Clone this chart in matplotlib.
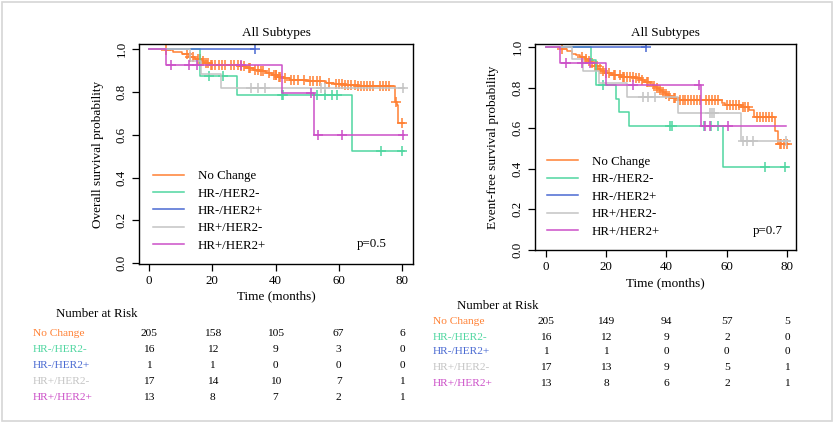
import numpy as np
import matplotlib
matplotlib.use("Agg")
import matplotlib.pyplot as plt
import matplotlib.transforms as mtransforms
from matplotlib.patches import Rectangle

plt.rcParams['font.family'] = ['Liberation Serif', 'DejaVu Serif']

groups = ["No Change", "HR-/HER2-", "HR-/HER2+", "HR+/HER2-", "HR+/HER2+"]
colors = ["#FF8033", "#4FD6A0", "#4A6AD2", "#C4C4C4", "#CC50C8"]
risk_times = [0, 20, 40, 60, 80]

# ---- Overall survival (left) : event times, survival after event, censor times, last follow-up
os_nc_t = [5, 7.5, 10.5, 12.5, 14.5, 16.5, 17.5, 19, 28.5, 31, 33, 35, 37, 39, 40.5, 42,
           44.5, 50, 56, 58.5, 62, 66, 77.7, 78.3, 78.8]
os_nc_s = [0.995, 0.985, 0.975, 0.963, 0.952, 0.943, 0.935, 0.926, 0.918, 0.91, 0.902, 0.895,
           0.887, 0.878, 0.868, 0.862, 0.852, 0.848, 0.842, 0.836, 0.83, 0.825, 0.75, 0.74, 0.655]
os_nc_c = [5.5, 12, 13, 14, 15.5, 16, 17, 18, 18.5, 19.5, 20, 21, 22, 23, 24, 26, 27, 28, 29, 30,
           31.5, 32, 33.5, 34.5, 35.5, 36, 38, 39.5, 40, 40.3, 41, 41.3, 43, 45, 46, 47, 49, 51,
           52, 53, 54, 57, 59, 60, 61, 62, 63, 64, 65, 66, 67, 68, 69, 70, 71, 73, 74, 75, 76,
           78, 80]
os_nc_end = 80.8

os_nn_t = [16, 27.8, 64.2]
os_nn_s = [0.875, 0.786, 0.524]
os_nn_c = [18.8, 23.3, 42.1, 42.5, 53, 55.6, 57.9, 59.5, 73.5, 79.9]
os_nn_end = 80.5

os_np_t = []
os_np_s = []
os_np_c = [33.5]
os_np_end = 33.5

os_pn_t = [13, 16.5, 22.8]
os_pn_s = [0.941, 0.882, 0.816]
os_pn_c = [32.2, 34.4, 36.6, 54.5, 55.6, 80.4]
os_pn_end = 80.8

os_pp_t = [5.3, 42, 52.1]
os_pp_s = [0.923, 0.792, 0.596]
os_pp_c = [6.8, 12.5, 15, 29, 51.2, 53.3, 60.9, 80.4]
os_pp_end = 80.6

# ---- Event-free survival (right)
efs_nc_t = [5.3, 7, 8.6, 10, 11.5, 13, 14, 15, 16.3, 17.5, 18.5, 19.8, 22, 25, 30, 31.5, 33,
            34.5, 35.5, 36.5, 37.5, 38.5, 39.5, 40.5, 42, 44, 58.3, 59.5, 65, 67.5, 69, 76, 77]
efs_nc_s = [0.99, 0.98, 0.968, 0.96, 0.952, 0.94, 0.93, 0.92, 0.905, 0.893, 0.883, 0.872, 0.863,
            0.855, 0.848, 0.84, 0.83, 0.818, 0.808, 0.798, 0.788, 0.778, 0.768, 0.758, 0.748,
            0.74, 0.725, 0.715, 0.705, 0.69, 0.655, 0.585, 0.52]
efs_nc_c = [5.5, 12, 13.5, 14.5, 15.5, 16.5, 17, 18, 19, 20, 21, 22.5, 23, 24.5, 25.5, 26, 27,
            28, 29, 30, 31, 32, 33.5, 34, 36, 37, 38, 39, 40, 41, 42.5, 43, 44.5, 45.5, 46, 47,
            48, 49, 50, 51, 53, 54, 55, 56, 57, 60, 61, 62, 63, 64, 65.5, 66, 67, 70, 71, 72,
            73, 74, 75, 77.5, 78, 79, 80]
efs_nc_end = 80.6

efs_nn_t = [15.2, 16.6, 23.2, 24.2, 27.7, 58.7]
efs_nn_s = [0.938, 0.813, 0.745, 0.678, 0.61, 0.407]
efs_nn_c = [18.9, 41.2, 42, 52.6, 54.8, 57.2, 72.8, 79.3]
efs_nn_end = 80.1

efs_np_t = []
efs_np_s = []
efs_np_c = [33.1]
efs_np_end = 33.1

efs_pn_t = [8.6, 12.5, 17.8, 26.8, 43.7, 64.6]
efs_pn_s = [0.941, 0.882, 0.824, 0.755, 0.673, 0.539]
efs_pn_c = [32.3, 34, 36.2, 54.4, 55, 55.6, 65.3, 66.8, 68.5, 79.6]
efs_pn_end = 80.5

efs_pp_t = [4.7, 20.1, 51.6]
efs_pp_s = [0.923, 0.812, 0.609]
efs_pp_c = [6.7, 12, 14.6, 29, 50.7, 52.8, 54.5, 60.4]
efs_pp_end = 79.7

# number at risk tables
os_risk = [[205, 158, 105, 67, 6],
           [16, 12, 9, 3, 0],
           [1, 1, 0, 0, 0],
           [17, 14, 10, 7, 1],
           [13, 8, 7, 2, 1]]
efs_risk = [[205, 149, 94, 57, 5],
            [16, 12, 9, 2, 0],
            [1, 1, 0, 0, 0],
            [17, 13, 9, 5, 1],
            [13, 8, 6, 2, 1]]

os_curves = [(os_nc_t, os_nc_s, os_nc_c, os_nc_end),
             (os_nn_t, os_nn_s, os_nn_c, os_nn_end),
             (os_np_t, os_np_s, os_np_c, os_np_end),
             (os_pn_t, os_pn_s, os_pn_c, os_pn_end),
             (os_pp_t, os_pp_s, os_pp_c, os_pp_end)]
efs_curves = [(efs_nc_t, efs_nc_s, efs_nc_c, efs_nc_end),
              (efs_nn_t, efs_nn_s, efs_nn_c, efs_nn_end),
              (efs_np_t, efs_np_s, efs_np_c, efs_np_end),
              (efs_pn_t, efs_pn_s, efs_pn_c, efs_pn_end),
              (efs_pp_t, efs_pp_s, efs_pp_c, efs_pp_end)]

W, H = 833, 422
fig = plt.figure(figsize=(W / 100, H / 100), dpi=100)
fig.patches.append(Rectangle((1.5 / W, 1.5 / H), 1 - 3 / W, 1 - 3 / H, transform=fig.transFigure,
                             fill=False, edgecolor='#d6d6d6', lw=1.2))


def px_ax(l, t, r, b):
    return fig.add_axes([l / W, 1 - b / H, (r - l) / W, (b - t) / H])


def draw_km(ax, curves, ylabel, pval, xlim, ylim, leg_anchor, pxy, xl_off, yl_off):
    for (t, s, c, end), col, name in zip(curves, colors, groups):
        x = [0] + list(t) + [end]
        y = [1] + list(s) + [s[-1] if s else 1]
        ax.step(x, y, where='post', color=col, lw=1.1, label=name)
        # censor marks sit on the curve at the censoring time
        idx = np.searchsorted(np.asarray(t, float), c, side='right')
        cy = np.r_[1.0, s][idx]
        ax.plot(c, cy, ls='none', marker='+', ms=7, mew=1.1, color=col)
    ax.set_xlim(*xlim)
    ax.set_ylim(*ylim)
    ax.set_xticks([0, 20, 40, 60, 80])
    ax.set_yticks([0.0, 0.2, 0.4, 0.6, 0.8, 1.0])
    ax.set_yticklabels(['0.0', '0.2', '0.4', '0.6', '0.8', '1.0'])
    ax.tick_params(direction='out', length=5, width=0.9, labelsize=9.3, pad=3)
    plt.setp(ax.get_yticklabels(), rotation=90, va='center')
    for sp in ax.spines.values():
        sp.set_linewidth(1.0)
    ax.set_title("All Subtypes", fontsize=9.5, pad=6)
    ax.set_xlabel("Time (months)", fontsize=9.5)
    ax.set_ylabel(ylabel, fontsize=9.5)
    ax.xaxis.set_label_coords(0.5, xl_off)
    ax.xaxis.label.set_va('center')
    ax.yaxis.set_label_coords(yl_off, 0.5)
    ax.yaxis.label.set_va('center')
    ax.legend(loc='lower left', bbox_to_anchor=leg_anchor, frameon=False, fontsize=9.3,
              handlelength=2.4, handletextpad=1.1, labelspacing=0.42, borderpad=0,
              borderaxespad=0)
    ax.text(pxy[0], pxy[1], pval, transform=ax.transAxes, fontsize=9.3, ha='center', va='center')


def draw_risk(ax, risk, head_xy, label_x, row_ys):
    fig.text(head_xy[0] / W, 1 - head_xy[1] / H, "Number at Risk", fontsize=9.3,
             ha='left', va='center')
    tr = mtransforms.blended_transform_factory(ax.transData, fig.transFigure)
    for row, col, name, yy in zip(risk, colors, groups, row_ys):
        fig.text(label_x / W, 1 - yy / H, name, color=col, fontsize=8.2, ha='left', va='center')
        for t, n in zip(risk_times, row):
            ax.text(t, 1 - yy / H, str(n), transform=tr, fontsize=8.2, ha='center', va='center',
                    color='black')


ax1 = px_ax(139, 44, 413, 264)
draw_km(ax1, os_curves, "Overall survival probability", "p=0.5",
        (-3.2, 83.5), (-0.003, 1.022), (0.05, 0.055), (0.85, 0.09), -0.145, -0.15)
draw_risk(ax1, os_risk, (56, 314), 33, [334, 350, 366, 382, 398])

ax2 = px_ax(535, 44, 796, 250)
draw_km(ax2, efs_curves, "Event-free survival probability", "p=0.7",
        (-3.5, 82.9), (-0.002, 1.016), (0.045, 0.06), (0.89, 0.09), -0.16, -0.161)
draw_risk(ax2, efs_risk, (457, 306), 433, [321, 337, 352, 367, 383])

fig.savefig("out.png", dpi=100)
